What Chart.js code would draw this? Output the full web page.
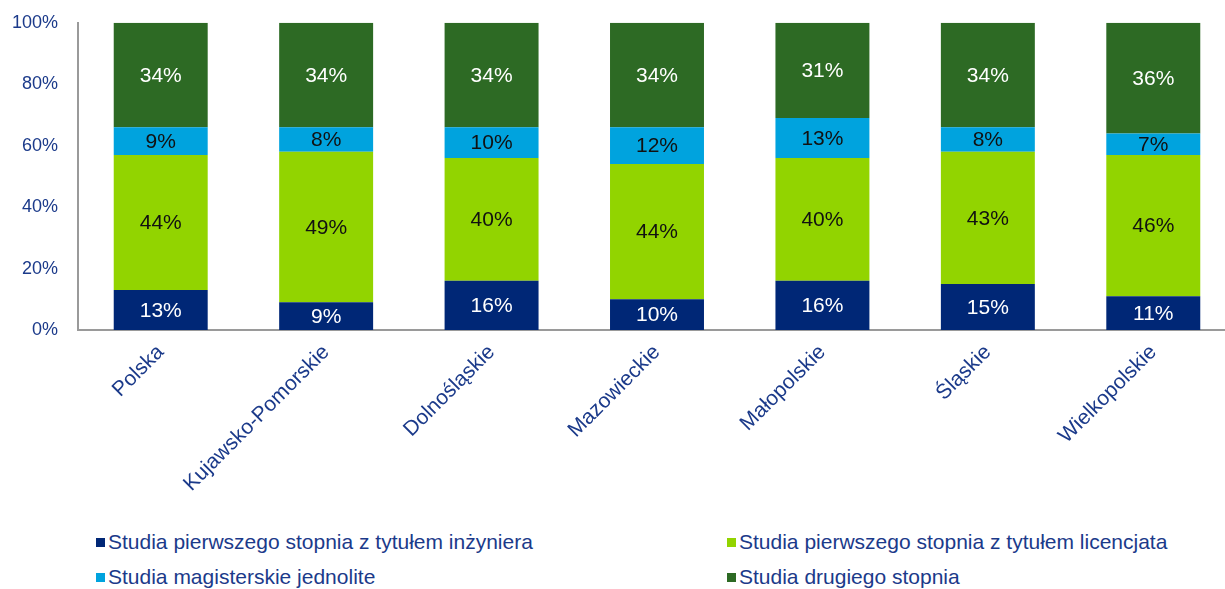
<!DOCTYPE html>
<html>
<head>
<meta charset="utf-8">
<script src="https://cdn.jsdelivr.net/npm/chart.js@4.4.1/dist/chart.umd.min.js"></script>
<style>
  html, body { margin: 0; padding: 0; background: #fff; overflow: hidden; width: 1225px; height: 589px; }
  #wrap { position: relative; width: 1225px; height: 589px; overflow: hidden; }
  #chart { position: absolute; left: 0; top: -8px; }
  .legend { position: absolute; font-family: "Liberation Sans", Arial, sans-serif; font-size: 21px; color: #1b3a8a; white-space: nowrap; }
  .legend span.box { display: inline-block; width: 9px; height: 9px; margin-right: 3px; vertical-align: 2px; }
</style>
</head>
<body>
<div id="wrap">
  <canvas id="chart" width="1236" height="528"></canvas>
  <div id="legend"></div>
</div>
<script>
const categories = ["Polska", "Kujawsko-Pomorskie", "Dolnośląskie", "Mazowieckie", "Małopolskie", "Śląskie", "Wielkopolskie"];
const inzynier = [13, 9, 16, 10, 16, 15, 11];
const licencjat = [44, 49, 40, 44, 40, 43, 46];
const jednolite = [9, 8, 10, 12, 13, 8, 7];
const drugiego = [34, 34, 34, 34, 31, 34, 36];
const yTicks = [0, 20, 40, 60, 80, 100];

const seriesNames = [
    "Studia pierwszego stopnia z tytułem inżyniera",
    "Studia pierwszego stopnia z tytułem licencjata",
    "Studia magisterskie jednolite",
    "Studia drugiego stopnia"
];
const seriesColors = ["#002776", "#92D400", "#00A3DE", "#2D6A24"];
const labelColors = ["#ffffff", "#111111", "#111111", "#ffffff"];
const navy = "#1b3a8a";

// draws the value of each segment in its middle
const segmentLabels = {
    id: 'segmentLabels',
    afterDatasetsDraw(chart) {
        const ctx = chart.ctx;
        ctx.save();
        ctx.font = '21px "Liberation Sans", Arial, sans-serif';
        ctx.textAlign = 'center';
        ctx.textBaseline = 'middle';
        chart.data.datasets.forEach((ds, i) => {
            const meta = chart.getDatasetMeta(i);
            meta.data.forEach((bar, j) => {
                ctx.fillStyle = labelColors[i];
                const mid = (bar.y + bar.base) / 2;
                ctx.fillText(ds.data[j] + '%', bar.x, mid + 1);
            });
        });
        ctx.restore();
    }
};

const datasets = [inzynier, licencjat, jednolite, drugiego].map((d, i) => ({
    label: seriesNames[i],
    data: d,
    backgroundColor: seriesColors[i],
    borderWidth: 0,
    categoryPercentage: 1,
    barPercentage: 0.568
}));

new Chart(document.getElementById('chart').getContext('2d'), {
    type: 'bar',
    data: { labels: categories, datasets: datasets },
    options: {
        responsive: false,
        animation: false,
        layout: { padding: { top: 4, left: 0, right: 0, bottom: 0 } },
        plugins: { legend: { display: false }, tooltip: { enabled: false } },
        scales: {
            x: {
                stacked: true,
                grid: { display: false, drawTicks: false },
                border: { display: true, color: '#9a9a9a', width: 2 },
                ticks: {
                    color: navy,
                    font: { family: '"Liberation Sans", Arial, sans-serif', size: 21 },
                    minRotation: 45,
                    maxRotation: 45,
                    padding: 10
                },
                afterFit: (scale) => { scale.height = 190; }
            },
            y: {
                stacked: true,
                min: 0,
                max: 100,
                afterBuildTicks: (scale) => { scale.ticks = yTicks.map(v => ({ value: v })); },
                grid: { display: false, drawTicks: false },
                border: { display: true, color: '#9a9a9a', width: 2 },
                ticks: {
                    color: navy,
                    font: { family: '"Liberation Sans", Arial, sans-serif', size: 18 },
                    padding: 20,
                    callback: (v) => v + '%'
                },
                afterFit: (scale) => { scale.width = 78; }
            }
        }
    },
    plugins: [segmentLabels]
});

// legend in two columns, like the original
const legend = document.getElementById('legend');
const legendPos = [[96, 530], [727, 530], [96, 565], [727, 565]];
seriesNames.forEach((name, i) => {
    const el = document.createElement('div');
    el.className = 'legend';
    el.style.left = legendPos[i][0] + 'px';
    el.style.top = legendPos[i][1] + 'px';
    el.innerHTML = '<span class="box" style="background:' + seriesColors[i] + '"></span>' + name;
    legend.appendChild(el);
});
</script>
</body>
</html>
